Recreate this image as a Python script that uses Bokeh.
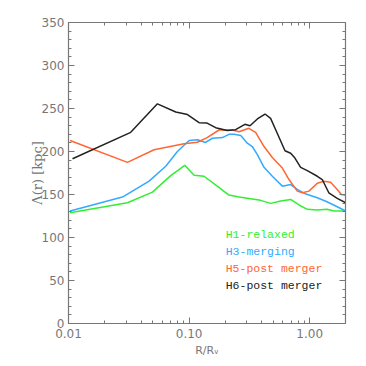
import numpy as np
from bokeh.plotting import figure
from bokeh.models import (LogAxis, LinearAxis, Range1d, SingleIntervalTicker,
                          PrintfTickFormatter, LogTicker, ColumnDataSource)
from bokeh.core.properties import value
from bokeh.embed import file_html
from bokeh.resources import INLINE

# ---- data ----
h6_r = [0.0108, 0.0328, 0.0546, 0.0775, 0.0969, 0.121, 0.141, 0.166, 0.207, 0.243,
        0.290, 0.320, 0.368, 0.426, 0.474, 0.539, 0.624, 0.695, 0.754, 0.841,
        0.955, 1.156, 1.27, 1.44, 1.69, 1.99]
h6_l = [191.6, 222.3, 255.4, 246.0, 243.0, 233.5, 233.0, 227.7, 224.3, 225.4,
        231.6, 230.0, 237.8, 243.6, 238.5, 221.0, 200.9, 198.0, 192.4, 181.6,
        177.8, 171.2, 167.4, 152.0, 145.5, 140.4]

h5_r = [0.0103, 0.0308, 0.0512, 0.0907, 0.117, 0.141, 0.177, 0.229, 0.259, 0.313,
        0.356, 0.418, 0.490, 0.593, 0.673, 0.789, 0.869, 0.985, 1.155, 1.312,
        1.49, 1.69, 1.83, 1.99]
h5_l = [212.8, 187.4, 202.0, 209.0, 210.8, 216.2, 225.0, 225.0, 223.0, 227.0,
        222.3, 205.8, 193.0, 180.8, 167.4, 153.9, 152.0, 153.9, 163.1, 165.5,
        164.3, 155.9, 150.0, 149.0]

h3_r = [0.0103, 0.028, 0.0466, 0.064, 0.080, 0.100, 0.117, 0.137, 0.156, 0.189,
        0.214, 0.236, 0.268, 0.304, 0.334, 0.368, 0.418, 0.49, 0.593, 0.695,
        0.789, 0.918, 1.155, 1.39, 1.69, 1.99]
h3_l = [130.8, 147.0, 165.5, 182.8, 200.0, 212.8, 213.6, 210.5, 215.4, 216.2,
        220.0, 220.0, 218.5, 209.7, 205.8, 196.3, 181.6, 171.2, 159.7, 161.6,
        155.9, 150.8, 146.2, 141.6, 135.8, 130.8]

h1_r = [0.0103, 0.0308, 0.0497, 0.0704, 0.092, 0.110, 0.133, 0.171, 0.214, 0.259,
        0.324, 0.392, 0.474, 0.574, 0.695, 0.815, 0.955, 1.155, 1.39, 1.59, 1.99]
h1_l = [128.9, 140.4, 152.8, 172.0, 183.9, 172.4, 171.2, 159.7, 149.3, 147.0,
        145.0, 143.2, 139.7, 142.4, 144.3, 137.8, 132.8, 132.0, 132.8, 130.8, 130.8]

labels = ["H1-relaxed", "H3-merging", "H5-post merger", "H6-post merger"]
colors = ["#33ee33", "#33aaff", "#ff6633", "#222222"]
legend_x = [0.201, 0.201, 0.201, 0.201]
legend_y = [104, 84, 63.6, 44.3]

GRAY = "#777777"

p = figure(width=366, height=366, x_axis_type="log",
           x_range=Range1d(0.01, 1.98), y_range=Range1d(0, 350),
           output_backend="svg", toolbar_location=None,
           min_border_left=68, min_border_right=21, min_border_top=22, min_border_bottom=43)
p.grid.visible = False
p.outline_line_color = None
p.background_fill_color = "white"
p.border_fill_color = "white"

def style(ax, show_labels=True):
    ax.axis_line_color = GRAY
    ax.axis_line_width = 1.2
    ax.major_tick_line_color = GRAY
    ax.minor_tick_line_color = GRAY
    ax.major_tick_in = 6
    ax.major_tick_out = 0
    ax.minor_tick_in = 3
    ax.minor_tick_out = 0
    ax.major_label_text_color = GRAY
    ax.major_label_text_font = "DejaVu Sans"
    ax.major_label_text_font_size = "12px"
    ax.axis_label_text_color = GRAY
    ax.axis_label_text_font_style = "normal"
    if not show_labels:
        ax.major_label_text_font_size = "1px"
        ax.major_label_text_alpha = 0
        ax.major_label_standoff = 0

xa = p.xaxis[0]
style(xa)
xa.ticker = LogTicker(num_minor_ticks=10)
xa.formatter = PrintfTickFormatter(format="%.2f")
xa.major_label_standoff = 5
xa.axis_label = "R/Rᵥ"
xa.axis_label_text_font = "DejaVu Sans"
xa.axis_label_text_font_size = "11px"
xa.axis_label_standoff = 3

ya = p.yaxis[0]
style(ya)
ya.ticker = SingleIntervalTicker(interval=50, num_minor_ticks=5)
ya.major_label_standoff = 4
ya.axis_label = "Λ(r) [kpc]"
ya.axis_label_text_font = "DejaVu Serif"
ya.axis_label_text_font_size = "13px"
ya.axis_label_standoff = -6

top = LogAxis(ticker=LogTicker(num_minor_ticks=10))
style(top, show_labels=False)
p.add_layout(top, "above")
right = LinearAxis(ticker=SingleIntervalTicker(interval=50, num_minor_ticks=5))
style(right, show_labels=False)
p.add_layout(right, "right")

series = [(h1_r, h1_l), (h3_r, h3_l), (h5_r, h5_l), (h6_r, h6_l)]
for (r, l), c in zip(series, colors):
    p.line(r, l, line_color=c, line_width=1.5)

src = ColumnDataSource(dict(x=legend_x, y=legend_y, t=labels, c=colors))
p.text(x="x", y="y", text="t", text_color="c", source=src,
       text_font=value("Liberation Mono"), text_font_size="11.5px",
       text_baseline="middle", text_align="left")

open("out.html", "w").write(file_html(p, INLINE))
